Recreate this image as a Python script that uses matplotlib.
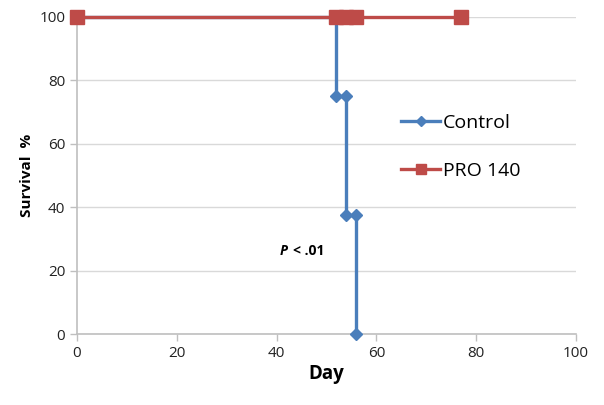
import matplotlib
matplotlib.use("Agg")
import matplotlib.pyplot as plt

# Datos de supervivencia
control_dia = [0, 52, 52, 54, 54, 56, 56]
control_surv = [100, 100, 75, 75, 37.5, 37.5, 0]
pro_dia = [0, 52, 54, 56, 77]
pro_surv = [100, 100, 100, 100, 100]
x_ticks = [0, 20, 40, 60, 80, 100]
y_ticks = [0, 20, 40, 60, 80, 100]

plt.rcParams['font.family'] = ['Open Sans', 'DejaVu Sans']

fig = plt.figure(figsize=(6.04, 4.05), dpi=100)
ax = fig.add_axes([0.1275, 0.1753, 0.826, 0.783])

gris = '#bfbfbf'
ax.plot(control_dia, control_surv, color='#4a7ebb', lw=2.4, marker='D',
        markersize=6.5, label='Control', zorder=3, clip_on=False)
ax.plot(pro_dia, pro_surv, color='#be4b48', lw=2.4, marker='s',
        markersize=9.5, label='PRO 140', zorder=4, clip_on=False)

ax.set_xlim(0, 100)
ax.set_ylim(0, 100)
ax.set_xticks(x_ticks)
ax.set_yticks(y_ticks)
ax.grid(axis='y', color='#d9d9d9', lw=1)
ax.set_axisbelow(True)
for s in ['top', 'right']:
    ax.spines[s].set_visible(False)
for s in ['left', 'bottom']:
    ax.spines[s].set_color(gris)
    ax.spines[s].set_linewidth(1.2)
ax.tick_params(colors=gris, labelcolor='#222222', labelsize=11, length=5, width=1)

ax.set_xlabel('Day', fontsize=13.5, fontweight='bold', labelpad=2)
ax.set_ylabel('Survival  %', fontsize=11, fontweight='bold', labelpad=4)

ax.text(40.6, 25, 'P', fontsize=10, fontweight='bold', style='italic')
ax.text(43.2, 25, '< .01', fontsize=10, fontweight='bold')

ax.legend(loc='center left', bbox_to_anchor=(0.615, 0.59), frameon=False,
          fontsize=14, handlelength=2.0, labelspacing=1.55, handletextpad=0.15,
          markerscale=0.75)

fig.savefig('out.png', dpi=100)
